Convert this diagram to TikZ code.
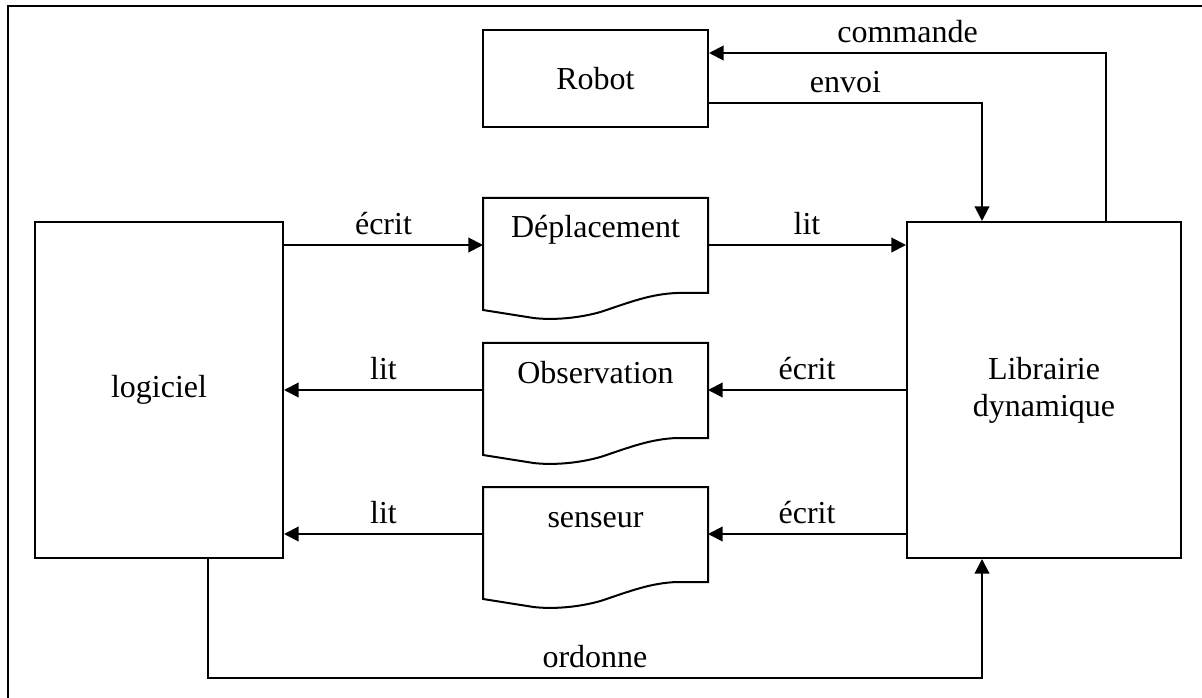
\documentclass[tikz,border=0pt]{standalone}
\usepackage{fontspec}
\setmainfont{Liberation Serif}
\usetikzlibrary{arrows.meta}

\tikzset{every picture/.style={line width=1.5pt}}
\tikzset{
	every node/.style={font=\fontsize{24}{27.6}\selectfont},
	boite/.style={draw, inner sep=0pt, align=center},
	docu/.style={inner sep=0pt, anchor=base},
	fleche/.style={-{Triangle[length=11pt,width=11pt]}},
	etiq/.style={above, inner sep=7pt},
}

% contour d'un document (bas ondule), place autour du texte du noeud
\newcommand{\contourdoc}[1]{%
	\begin{scope}[shift={(#1.base)}]
		\draw (-112.5,-40) -- (112.5,-40) -- (112.5,55) -- (81.5,55)
		.. controls (55,56) and (35,64) .. (5,74)
		.. controls (-20,81) and (-45,82) .. (-62,80) -- (-112.5,72) -- cycle;
		\coordinate (#1-w) at (-112.5,7);
		\coordinate (#1-e) at (112.5,7);
	\end{scope}}

\begin{document}
\begin{tikzpicture}[x=0.75pt,y=0.75pt,yscale=-1,xscale=1]
	\useasboundingbox (0,0) rectangle (1202,698);
	
	%cadre
	\draw (8,6) rectangle (1230,720);
	
	%boites
	\node[boite, minimum width=168.75pt, minimum height=72.75pt] (robot) at (595.5,78.5) {Robot};
	\node[boite, minimum width=186pt, minimum height=252pt] (logi) at (159,390) {logiciel};
	\node[boite, minimum width=205.5pt, minimum height=252pt] (libr) at (1044,390) {Librairie\\dynamique};
	
	%documents
	\node[docu] (depl) at (595.5,238) {Déplacement};
	\node[docu] (obse) at (595.5,383) {Observation};
	\node[docu] (sens) at (595.5,527) {senseur};
	\contourdoc{depl}
	\contourdoc{obse}
	\contourdoc{sens}
	
	\coordinate (pCmd) at (1106,53);
	\coordinate (pEnvoi) at (982,103);
	\coordinate (pOrd) at (208,678);
	
	%fleches
	\draw[fleche] (logi.east |- depl-w) -- node[etiq] {écrit} (depl-w);
	\draw[fleche] (depl-e) -- node[etiq] {lit} (libr.west |- depl-e);
	\draw[fleche] (libr.west |- obse-e) -- node[etiq] {écrit} (obse-e);
	\draw[fleche] (obse-w) -- node[etiq] {lit} (logi.east |- obse-w);
	\draw[fleche] (libr.west |- sens-e) -- node[etiq] {écrit} (sens-e);
	\draw[fleche] (sens-w) -- node[etiq] {lit} (logi.east |- sens-w);
	
	\draw[fleche] (pCmd |- libr.north) -- (pCmd) -- node[etiq] {commande} (pCmd -| robot.east);
	\draw[fleche] (robot.east |- pEnvoi) -- node[etiq] {envoi} (pEnvoi) -- (pEnvoi |- libr.north);
	\draw[fleche] (pOrd |- logi.south) -- (pOrd) -- node[etiq] {ordonne} (pOrd -| pEnvoi) -- (pEnvoi |- libr.south);
	
\end{tikzpicture}
\end{document}
